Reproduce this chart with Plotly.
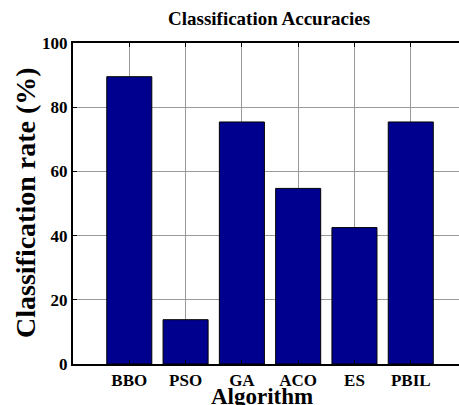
import plotly.graph_objects as go

algorithms = ["BBO", "PSO", "GA", "ACO", "ES", "PBIL"]
rates = [89.5, 13.8, 75.4, 54.7, 42.5, 75.4]
y_ticks = [0, 20, 40, 60, 80, 100]

FONT = "Liberation Serif"
W, H = 459, 405
L, T, B, R = 73, 43, 41, 0
pw = W - L - R
ph = H - T - B

def px_x(p):
    return (p - L) / pw

def px_y(p):
    return (H - B - p) / ph

xs = list(range(1, len(algorithms) + 1))

fig = go.Figure()
fig.add_trace(go.Bar(
    x=xs, y=rates, width=0.8,
    marker=dict(color="#00008F", line=dict(color="black", width=1)),
))

fig.update_layout(
    width=W, height=H,
    margin=dict(l=L, r=R, t=T, b=B, pad=0),
    paper_bgcolor="white", plot_bgcolor="white",
    showlegend=False,
    xaxis=dict(
        range=[0, 6.857], tickmode="array", tickvals=xs, ticktext=algorithms,
        showgrid=True, gridcolor="#9a9a9a", gridwidth=1,
        showline=True, linecolor="black", linewidth=2, mirror="ticks",
        ticks="inside", ticklen=4, tickcolor="black",
        tickfont=dict(family=FONT, size=17, color="black", weight="bold"),
        zeroline=False,
    ),
    yaxis=dict(
        range=[0, 100], tickmode="array", tickvals=y_ticks,
        showgrid=True, gridcolor="#9a9a9a", gridwidth=1,
        showline=True, linecolor="black", linewidth=2, mirror=False,
        ticks="inside", ticklen=4, tickcolor="black",
        tickfont=dict(family=FONT, size=17, color="black", weight="bold"),
        zeroline=False,
    ),
    annotations=[
        dict(text="Classification Accuracies", xref="paper", yref="paper",
             x=px_x(268.5), y=px_y(19), xanchor="center", yanchor="middle",
             showarrow=False, font=dict(family=FONT, size=19, color="black", weight="bold")),
        dict(text="Classification rate (%)", xref="paper", yref="paper",
             x=px_x(25), y=px_y(203), xanchor="center", yanchor="middle", textangle=-90,
             showarrow=False, font=dict(family=FONT, size=28, color="black", weight="bold")),
        dict(text="Algorithm", xref="paper", yref="paper",
             x=px_x(262), y=px_y(396), xanchor="center", yanchor="middle",
             showarrow=False, font=dict(family=FONT, size=23, color="black", weight="bold")),
    ],
)

fig.write_html("out.html")
